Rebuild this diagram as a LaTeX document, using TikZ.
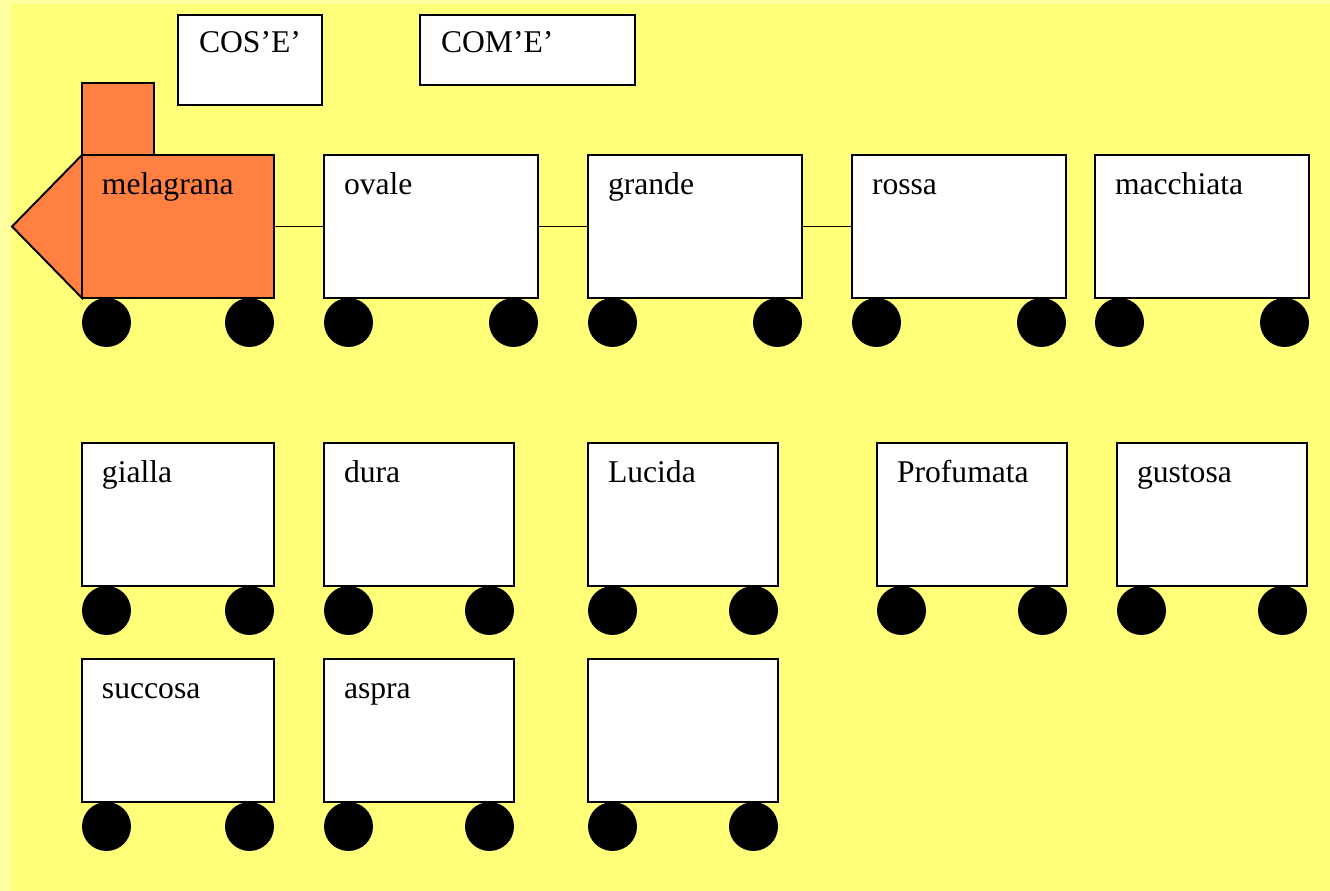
\documentclass[tikz,border=0pt]{standalone}
\usepackage{fontspec}
\setmainfont{Liberation Serif}
\usepackage{tikz}
\usetikzlibrary{positioning}
\usepackage{xcolor}
\definecolor{bgyellow}{RGB}{255,255,122}
\definecolor{bgedge}{RGB}{255,255,160}
\definecolor{loco}{RGB}{255,128,64}

\begin{document}
\begin{tikzpicture}[auto,node distance=1cm,
font=\fontsize{18}{20}\selectfont,
wagon/.style={rectangle,draw,line width=1.1pt,fill=white,inner xsep=0.4cm,inner ysep=0pt,outer sep=0pt,text height=0.8cm,text depth=2.06cm,text width=#1,align=left},
wagon/.default=3cm,
tag/.style={rectangle,draw,line width=1.1pt,fill=white,inner xsep=0.42cm,inner ysep=0pt,outer sep=0pt,text height=0.76cm,text width=#1,align=left,anchor=north west},
wheel/.style={circle,fill=black,inner sep=0pt,outer sep=0pt,minimum size=0.98cm},
link/.style={-,line width=1.1pt},
]
\fill [bgedge] (0,0) rectangle (26.6,-17.82);
\fill [bgyellow] (0.22,-0.08) rectangle (26.6,-17.82);
\useasboundingbox (0,0) rectangle (26.6,-17.82);

\node [tag=2.04cm,text depth=1.04cm] (Cose) at (3.56,-0.30) {COS'E'};
\node [tag=3.46cm,text depth=0.64cm] (Come) at (8.40,-0.30) {COM'E'};

\node [wagon=3.04cm,fill=loco,anchor=north west] (Eng) at (1.64,-3.10) {melagrana};
\node [wagon=3.48cm] (W1) [right=of Eng] {ovale};
\node [wagon=3.48cm] (W2) [right=of W1] {grande};
\node [wagon=3.48cm] (W3) [right=of W2] {rossa};
\node [wagon=3.48cm] (W4) [right=0.58cm of W3] {macchiata};

\node [rectangle,draw,line width=1.1pt,fill=loco,minimum size=1.44cm,inner sep=0pt,outer sep=0pt] (Chim) [above right=0pt of Eng.north west] {};
\coordinate [left=1.4cm of Eng.west] (Nose);
\draw [line width=1.1pt,fill=loco] (Eng.north west) -- (Nose) -- (Eng.south west) -- cycle;

\node [wagon=3.04cm,anchor=north west] (G1) at (1.64,-8.86) {gialla};
\node [wagon] (G2) [right=of G1] {dura};
\node [wagon] (G3) [right=1.48cm of G2] {Lucida};
\node [wagon] (G4) [right=1.98cm of G3] {Profumata};
\node [wagon] (G5) [right=of G4] {gustosa};

\node [wagon=3.04cm,anchor=north west] (S1) at (1.64,-13.18) {succosa};
\node [wagon] (S2) [right=of S1] {aspra};
\node [wagon] (S3) [right=1.48cm of S2] {};

\foreach \w in {Eng, W1, W2, W3, W4, G1, G2, G3, G4, G5, S1, S2, S3}
{
\node [wheel] (\w-l) [below=0pt of \w.south west, xshift=0.49cm] {};
\node [wheel] (\w-r) [below=0pt of \w.south east, xshift=-0.49cm] {};
}

\draw [link] (Eng.east) to (W1.west);
\draw [link] (W1.east) to (W2.west);
\draw [link] (W2.east) to (W3.west);

\end{tikzpicture}
\end{document}
